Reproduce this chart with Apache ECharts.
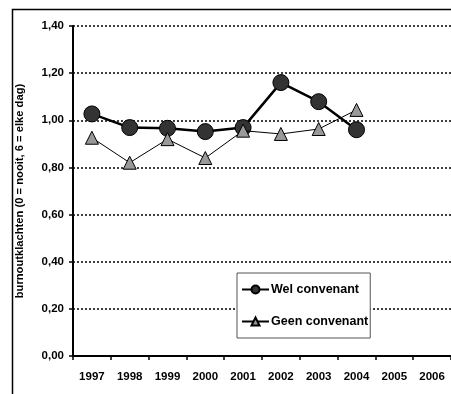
<!DOCTYPE html>
<html><head><meta charset="utf-8">
<script src="https://cdn.jsdelivr.net/npm/echarts@6/dist/echarts.min.js"></script>
<style>html,body{margin:0;padding:0;background:#fff}#c{width:451px;height:394px}</style>
</head><body><div id="c"></div>
<script>
const years = ['1997','1998','1999','2000','2001','2002','2003','2004','2005','2006'];
const welConvenant = [1.027, 0.969, 0.966, 0.952, 0.969, 1.16, 1.079, 0.96, null, null];
const geenConvenant = [0.926, 0.82, 0.92, 0.84, 0.956, 0.942, 0.963, 1.044, null, null];
const yTicks = {min: 0, max: 1.4, interval: 0.2};
const seriesNames = ['Wel convenant', 'Geen convenant'];
const yTitle = 'burnoutklachten (0 = nooit, 6 = elke dag)';

const font = 'Arial, "Liberation Sans", sans-serif';
const chart = echarts.init(document.getElementById('c'), null, {renderer: 'canvas'});
chart.setOption({
  animation: false,
  backgroundColor: '#fff',
  graphic: [{
    type: 'rect', left: 10, top: 7, z: -1,
    shape: {width: 460, height: 400},
    style: {fill: 'none', stroke: '#000', lineWidth: 1.5}
  }],
  grid: {left: 73, top: 26, right: -2, bottom: 38, containLabel: false},
  legend: {
    orient: 'vertical', left: 237, top: 273,
    backgroundColor: '#fff', borderColor: '#555', borderWidth: 1,
    padding: [10, 2, 10, 4], itemGap: 19,
    itemWidth: 27, itemHeight: 10,
    textStyle: {fontFamily: font, fontWeight: 'bold', fontSize: 12.5, color: '#000', padding: [0,0,0,-3]},
    data: seriesNames
  },
  xAxis: {
    type: 'category', data: years, boundaryGap: true,
    axisLine: {lineStyle: {color: '#000', width: 2}},
    axisTick: {show: true, length: 4, lineStyle: {color: '#000', width: 1.5}},
    axisLabel: {fontFamily: font, fontWeight: 'bold', fontSize: 11.5, color: '#000', margin: 15, interval: 0},
    splitLine: {show: false}
  },
  yAxis: {
    type: 'value', min: yTicks.min, max: yTicks.max, interval: yTicks.interval,
    name: yTitle, nameLocation: 'middle', nameGap: 48, nameRotate: 90,
    nameTextStyle: {fontFamily: font, fontWeight: 'bold', fontSize: 11.2, color: '#000'},
    axisLine: {show: true, lineStyle: {color: '#000', width: 2}},
    axisTick: {show: true, length: 4, lineStyle: {color: '#000', width: 1.5}},
    axisLabel: {fontFamily: font, fontWeight: 'bold', fontSize: 11.5, color: '#000', margin: 9,
      formatter: v => v.toFixed(2).replace('.', ',')},
    splitLine: {show: true, lineStyle: {color: '#000', type: [2, 2], width: 1.5}}
  },
  series: [{
    name: seriesNames[0], type: 'line', data: welConvenant,
    symbol: 'circle', symbolSize: 16, z: 3,
    lineStyle: {color: '#000', width: 2.5},
    itemStyle: {color: '#333', borderColor: '#000', borderWidth: 1}
  }, {
    name: seriesNames[1], type: 'line', data: geenConvenant,
    symbol: 'triangle', symbolSize: 13, z: 4,
    lineStyle: {color: '#000', width: 1},
    itemStyle: {color: '#999', borderColor: '#000', borderWidth: 1}
  }]
});
</script></body></html>
